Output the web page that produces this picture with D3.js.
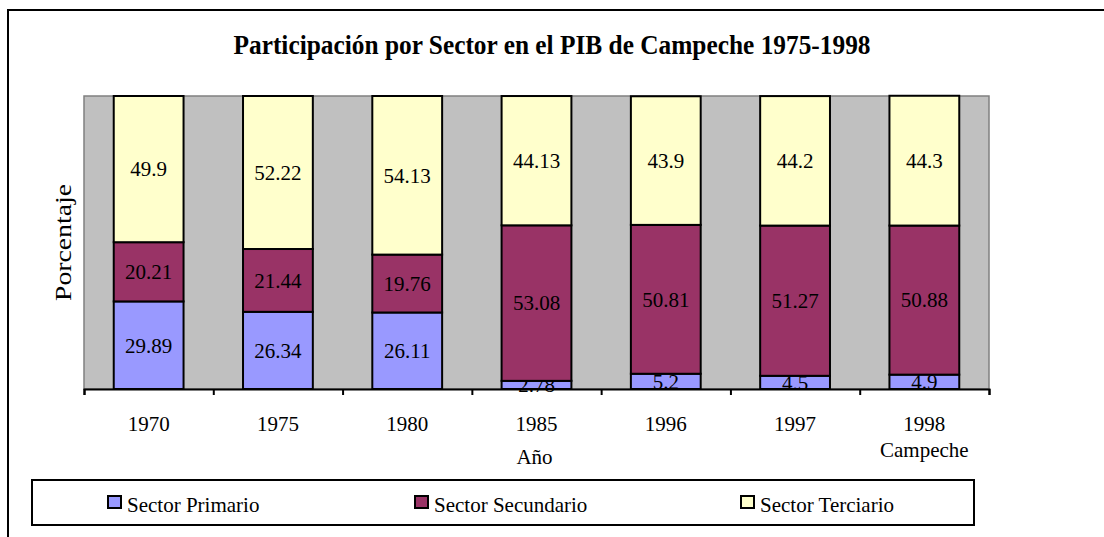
<!DOCTYPE html>
<html>
<head>
<meta charset="utf-8">
<script src="https://cdn.jsdelivr.net/npm/d3@7"></script>
<style>
  body { margin: 0; background: #fff; }
</style>
</head>
<body>
<div id="chart"></div>
<script>
// datos
var years = ["1970", "1975", "1980", "1985", "1996", "1997", "1998"]
var tickLabels = ["1970", "1975", "1980", "1985", "1996", "1997", "1998|Campeche"]
var primario = [29.89, 26.34, 26.11, 2.78, 5.2, 4.5, 4.9]
var secundario = [20.21, 21.44, 19.76, 53.08, 50.81, 51.27, 50.88]
var terciario = [49.9, 52.22, 54.13, 44.13, 43.9, 44.2, 44.3]
var seriesNames = ["Sector Primario", "Sector Secundario", "Sector Terciario"]
var seriesKeys = ["primario", "secundario", "terciario"]
var colors = ["#9999FF", "#993366", "#FFFFCC"]

var W = 1104, H = 537
var plot = {left: 84, right: 989, top: 96, bottom: 389}
var serif = "'Liberation Serif', 'DejaVu Serif', serif"

var svg = d3.select("#chart")
    .append("svg")
        .attr("width", W)
        .attr("height", H)
        .style("font-family", serif)

// marco exterior
svg.append("rect")
    .attr("x", 8).attr("y", 10)
    .attr("width", 1200).attr("height", 700)
    .attr("fill", "none")
    .attr("stroke", "#000")
    .attr("stroke-width", 2)

svg.append("text")
    .attr("x", 552).attr("y", 54)
    .attr("text-anchor", "middle")
    .attr("font-size", 28)
    .attr("font-weight", "bold")
    .attr("textLength", 637)
    .attr("lengthAdjust", "spacingAndGlyphs")
    .text("Participación por Sector en el PIB de Campeche 1975-1998")

var table = years.map(function(y, i) {
    return {year: y, primario: primario[i], secundario: secundario[i], terciario: terciario[i]}
})
var stacked = d3.stack().keys(seriesKeys)(table)

var x = d3.scaleBand()
    .domain(years)
    .range([plot.left, plot.right])
    .paddingInner(0.46)
    .paddingOuter(0.23)
var xEdge = d3.scaleLinear().domain([0, years.length]).range([plot.left, plot.right])
var y = d3.scaleLinear().domain([0, 100]).range([plot.bottom, plot.top])

// area de trazado
svg.append("rect")
    .attr("x", plot.left).attr("y", plot.top)
    .attr("width", plot.right - plot.left)
    .attr("height", plot.bottom - plot.top)
    .attr("fill", "#C0C0C0")
    .attr("stroke", "#808080")
    .attr("stroke-width", 1.5)

var groups = svg.selectAll("g.serie")
    .data(stacked)
    .enter().append("g")
        .attr("class", "serie")
        .attr("fill", function(d, i) { return colors[i] })

groups.selectAll("rect")
    .data(function(d) { return d })
    .enter().append("rect")
        .attr("x", function(d) { return x(d.data.year) })
        .attr("y", function(d) { return y(d[1]) })
        .attr("width", x.bandwidth())
        .attr("height", function(d) { return y(d[0]) - y(d[1]) })
        .attr("stroke", "#000")
        .attr("stroke-width", 2)

groups.selectAll("text")
    .data(function(d) { return d.map(function(v) { return {v: v, key: d.key} }) })
    .enter().append("text")
        .attr("x", function(d) { return x(d.v.data.year) + x.bandwidth() / 2 })
        .attr("y", function(d) { return (y(d.v[0]) + y(d.v[1])) / 2 })
        .attr("dy", "0.35em")
        .attr("text-anchor", "middle")
        .attr("font-size", 21)
        .attr("fill", "#000")
        .text(function(d) { return d.v.data[d.key] })

// eje x
var axis = svg.append("g")
    .attr("transform", "translate(0," + plot.bottom + ")")
    .call(d3.axisBottom(xEdge).ticks(years.length).tickSize(6).tickFormat(""))
axis.select(".domain").attr("stroke", "#000").attr("stroke-width", 2)
axis.selectAll(".tick line").attr("stroke", "#000").attr("stroke-width", 2)

svg.selectAll("text.cat")
    .data(tickLabels)
    .enter().append("text")
        .attr("class", "cat")
        .attr("text-anchor", "middle")
        .attr("font-size", 21)
        .attr("transform", function(d, i) { return "translate(" + (x(years[i]) + x.bandwidth() / 2) + ",431)" })
        .each(function(d) {
            var parts = d.split("|")
            var t = d3.select(this)
            parts.forEach(function(p, k) {
                t.append("tspan").attr("x", 0).attr("y", k * 26).text(p)
            })
        })

svg.append("text")
    .attr("x", (plot.left + plot.right) / 2 - 2).attr("y", 464)
    .attr("text-anchor", "middle")
    .attr("font-size", 21)
    .text("Año")

svg.append("text")
    .attr("transform", "translate(71," + (plot.top + plot.bottom) / 2 + ") rotate(-90)")
    .attr("text-anchor", "middle")
    .attr("font-size", 24)
    .attr("textLength", 117)
    .attr("lengthAdjust", "spacingAndGlyphs")
    .text("Porcentaje")

// leyenda
var legend = svg.append("g").attr("transform", "translate(32,480)")
legend.append("rect")
    .attr("width", 942).attr("height", 45)
    .attr("fill", "#fff")
    .attr("stroke", "#000")
    .attr("stroke-width", 2)
var legendOffsets = [76, 383, 709]
var items = legend.selectAll("g.item")
    .data(seriesNames)
    .enter().append("g")
        .attr("class", "item")
        .attr("transform", function(d, i) { return "translate(" + legendOffsets[i] + ",0)" })
items.append("rect")
    .attr("x", 0).attr("y", 16)
    .attr("width", 13).attr("height", 12)
    .attr("fill", function(d, i) { return colors[i] })
    .attr("stroke", "#000")
    .attr("stroke-width", 2)
items.append("text")
    .attr("x", 19).attr("y", 32)
    .attr("font-size", 21)
    .text(function(d) { return d })
</script>
</body>
</html>
